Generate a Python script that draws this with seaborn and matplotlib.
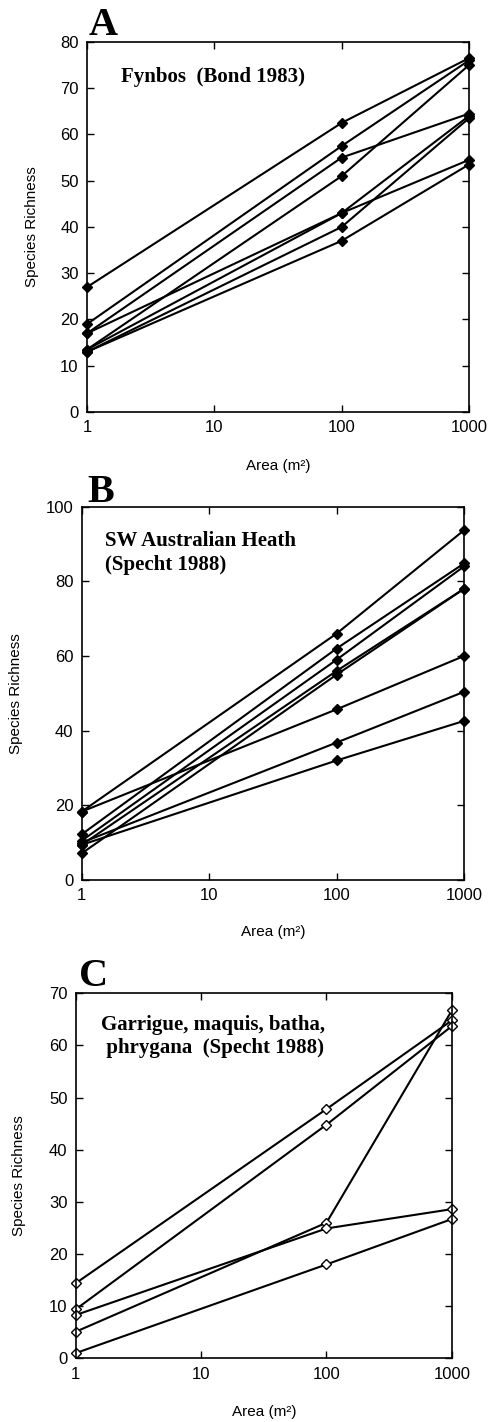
import numpy as np
import pandas as pd
import matplotlib
matplotlib.use("Agg")
import matplotlib.pyplot as plt
import matplotlib.transforms as mtransforms
import seaborn as sns

# ---------------- data ----------------
areas = [1, 100, 1000]

# Panel A: Fynbos (Bond 1983)
fynbos_sites = ["A1", "A2", "A3", "A4", "A5", "A6", "A7", "A8"]
fynbos_1 = [27, 19, 17, 13.5, 17, 13.5, 13, 13]
fynbos_100 = [62.5, 57.5, 55, 51, 43, 43, 40, 37]
fynbos_1000 = [76.5, 76, 64.5, 75, 54.5, 64, 63.5, 53.5]

# Panel B: SW Australian Heath (Specht 1988)
heath_sites = ["B1", "B2", "B3", "B4", "B5", "B6", "B7", "B8"]
heath_1 = [18.3, 12.2, 10.5, 9.4, 7.1, 18.3, 10, 9.4]
heath_100 = [66, 62, 59, 56, 55, 45.7, 36.8, 32]
heath_1000 = [93.7, 84.8, 84, 78, 78, 60, 50.4, 42.6]

# Panel C: Garrigue, maquis, batha, phrygana (Specht 1988)
garr_sites = ["C1", "C2", "C3", "C4", "C5"]
garr_1 = [14.4, 9.4, 5.1, 8.3, 1.0]
garr_100 = [47.8, 44.8, 26.0, 24.9, 18.0]
garr_1000 = [64.8, 63.7, 66.7, 28.6, 26.7]

x_ticks = [1, 10, 100, 1000]
x_ticklabels = ["1", "10", "100", "1000"]

titles_A = ["Fynbos  (Bond 1983)"]
titles_B = ["SW Australian Heath", "(Specht 1988)"]
titles_C = ["Garrigue, maquis, batha,", " phrygana  (Specht 1988)"]


def long_df(sites, v1, v100, v1000):
    rows = []
    for s, a, b, c in zip(sites, v1, v100, v1000):
        for area, val in zip(areas, [a, b, c]):
            rows.append({"site": s, "area": area, "richness": val})
    return pd.DataFrame(rows)


panels = [
    dict(df=long_df(fynbos_sites, fynbos_1, fynbos_100, fynbos_1000),
         ylim=(0, 80), yticks=list(range(0, 81, 10)), filled=True,
         letter="A", lines=titles_A,
         rect=[0.178, 0.7103, 0.781, 0.2602],
         text_x=121, text_base=[82],
         letter_xy=(89, 35), ylab_x=32, xlab_y=466),
    dict(df=long_df(heath_sites, heath_1, heath_100, heath_1000),
         ylim=(0, 100), yticks=list(range(0, 101, 20)), filled=True,
         letter="B", lines=titles_B,
         rect=[0.167, 0.3812, 0.782, 0.2625],
         text_x=105, text_base=[546, 570],
         letter_xy=(87, 502), ylab_x=16, xlab_y=932),
    dict(df=long_df(garr_sites, garr_1, garr_100, garr_1000),
         ylim=(0, 70), yticks=list(range(0, 71, 10)), filled=False,
         letter="C", lines=titles_C,
         rect=[0.155, 0.0448, 0.769, 0.2567],
         text_x=101, text_base=[1030, 1053],
         letter_xy=(79, 986), ylab_x=19, xlab_y=1412),
]

# ---------------- style ----------------
sns.set_theme(style="ticks")
plt.rcParams["font.family"] = ["Liberation Sans", "DejaVu Sans"]
plt.rcParams["text.color"] = "black"
plt.rcParams["axes.labelcolor"] = "black"

W, H = 489, 1422
fig = plt.figure(figsize=(W / 100, H / 100), dpi=100)
fig.patch.set_facecolor("white")

serif = ["Liberation Serif", "DejaVu Serif"]

for p in panels:
    ax = fig.add_axes(p["rect"])
    ax.set_facecolor("white")
    sns.lineplot(
        data=p["df"], x="area", y="richness", units="site", estimator=None,
        color="black", linewidth=1.5, marker="D", markersize=5.5,
        markerfacecolor="black" if p["filled"] else "white",
        markeredgecolor="black", markeredgewidth=1.0,
        ax=ax, legend=False, sort=False,
    )
    ax.set_xscale("log")
    ax.set_xlim(1, 1000)
    ax.set_ylim(*p["ylim"])
    ax.set_xticks(x_ticks)
    ax.set_xticklabels(x_ticklabels)
    ax.xaxis.set_minor_locator(matplotlib.ticker.NullLocator())
    ax.set_yticks(p["yticks"])
    ax.tick_params(axis="both", which="major", direction="in", length=5,
                   width=1.0, top=True, right=True, labelsize=12,
                   colors="black", pad=6)
    for sp in ax.spines.values():
        sp.set_visible(True)
        sp.set_linewidth(1.2)
        sp.set_color("black")
    ax.set_xlabel("Area (m²)", fontsize=11, color="black")
    ax.set_ylabel("Species Richness", fontsize=11, color="black")
    tx = mtransforms.blended_transform_factory(ax.transAxes, fig.transFigure)
    ty = mtransforms.blended_transform_factory(fig.transFigure, ax.transAxes)
    ax.xaxis.set_label_coords(0.5, 1 - p["xlab_y"] / H, transform=tx)
    ax.yaxis.set_label_coords(p["ylab_x"] / W, 0.5, transform=ty)
    ax.xaxis.label.set_va("center")
    ax.yaxis.label.set_va("center")
    for m in ax.lines:
        m.set_clip_on(False)

    for line, yb in zip(p["lines"], p["text_base"]):
        fig.text(p["text_x"] / W, 1 - yb / H, line, ha="left", va="baseline",
                 fontsize=15, fontweight="bold", family=serif, color="black")
    lx, ly = p["letter_xy"]
    fig.text(lx / W, 1 - ly / H, p["letter"], ha="left", va="baseline",
             fontsize=29, fontweight="bold", family=serif, color="black")

fig.savefig("out.png", dpi=100, facecolor="white")
